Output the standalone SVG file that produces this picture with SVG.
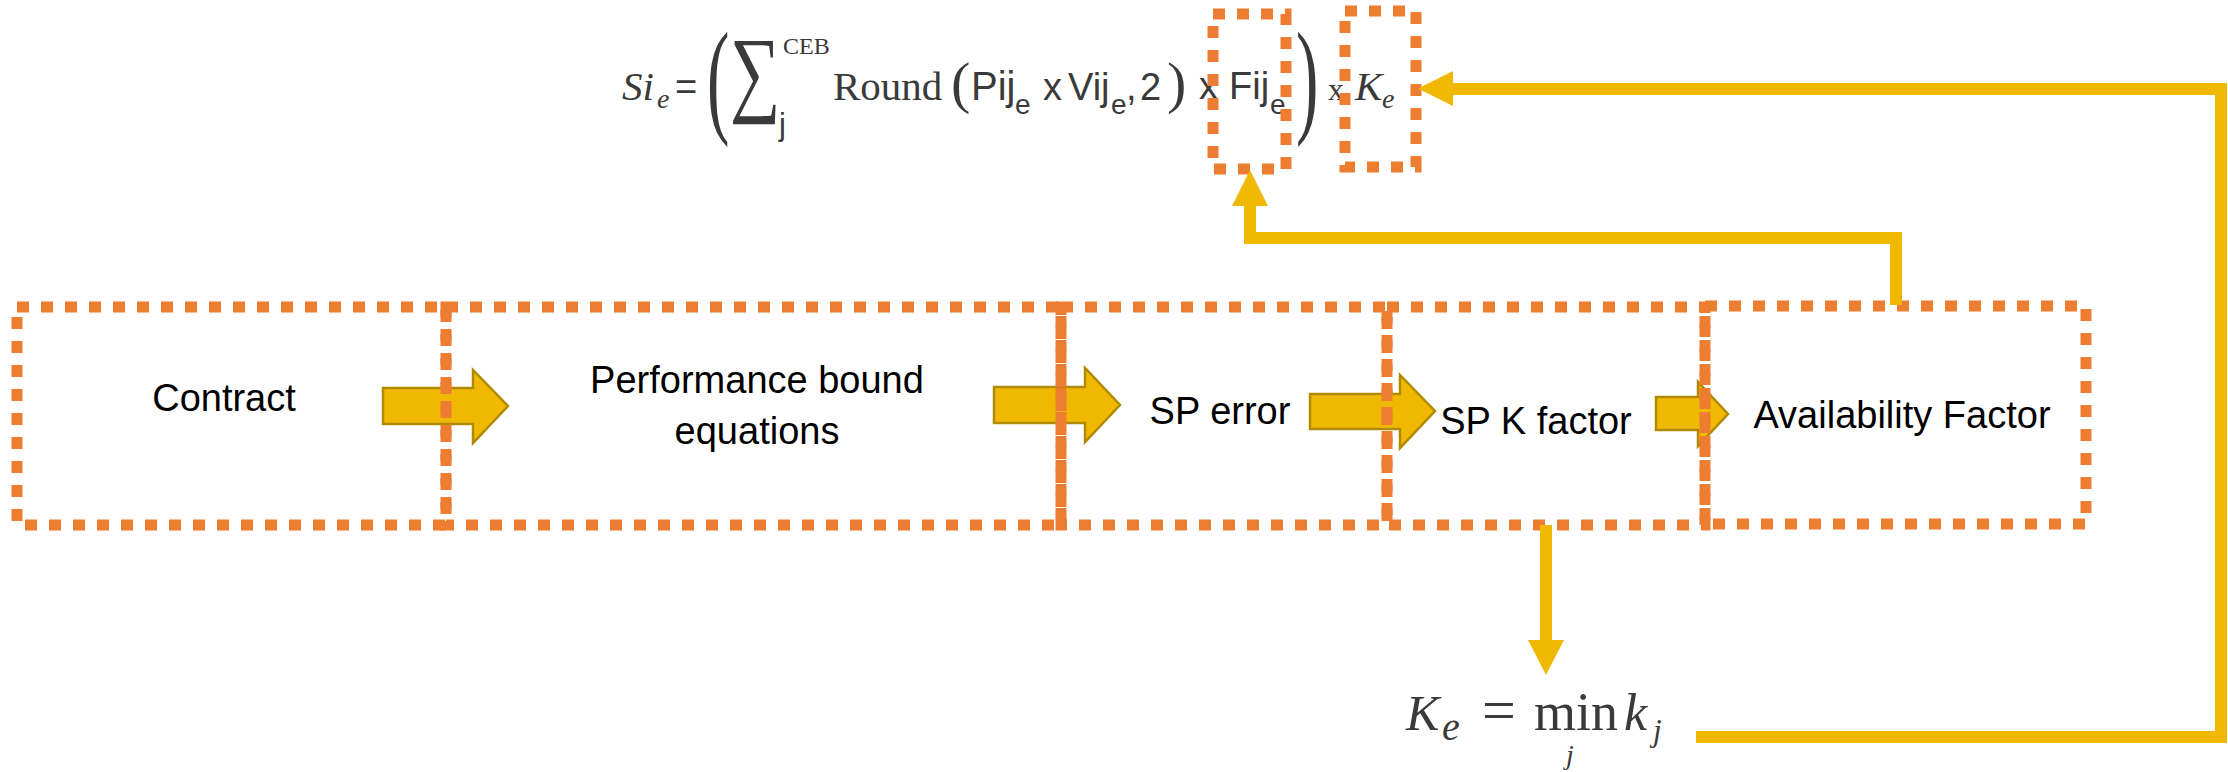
<svg xmlns="http://www.w3.org/2000/svg" width="2228" height="772" viewBox="0 0 2228 772">
<style>
.dot{fill:none;stroke:#ED7D31;stroke-width:11;stroke-dasharray:12 12}
.lbl{font-family:"Liberation Sans",Arial,sans-serif;font-size:38px;fill:#000}
.blk{fill:#F0B800;stroke:#B08A00;stroke-width:2.5}
.con{fill:none;stroke:#F0B800;stroke-width:12}
.head{fill:#F0B800}
.ser{font-family:"Liberation Serif","Times New Roman",serif;fill:#3a3a3a}
.it{font-style:italic}
.san{font-family:"Liberation Sans",Arial,sans-serif;fill:#3a3a3a}
</style>
<rect width="2228" height="772" fill="#fff"/>

<g id="block-arrows">
<polygon class="blk" points="383,388 473,388 473,370 508,406 473,443 473,424 383,424"/>
<polygon class="blk" points="994,387 1085,387 1085,368 1120,405 1085,442 1085,423 994,423"/>
<polygon class="blk" points="1310,394 1400,394 1400,375 1435,411 1400,448 1400,429 1310,429"/>
<polygon class="blk" points="1656,397 1698,397 1698,382 1728,414 1698,446 1698,430 1656,430"/>
</g>

<g id="box-contract">
<rect class="dot" x="17" y="307" width="429" height="218"/>
<text class="lbl" x="224" y="411" text-anchor="middle">Contract</text>
</g>
<g id="box-performance">
<rect class="dot" x="446" y="307" width="615" height="218"/>
<text class="lbl" x="757" y="393" text-anchor="middle">Performance bound</text>
<text class="lbl" x="757" y="444" text-anchor="middle">equations</text>
</g>
<g id="box-sp-error">
<rect class="dot" x="1061" y="307" width="326" height="218"/>
<text class="lbl" x="1220" y="424" text-anchor="middle">SP error</text>
</g>
<g id="box-sp-k">
<rect class="dot" x="1387" y="307" width="318" height="218"/>
<text class="lbl" x="1536" y="434" text-anchor="middle">SP K factor</text>
</g>
<g id="box-availability">
<rect class="dot" x="1705" y="306" width="381" height="218"/>
<text class="lbl" x="1902" y="428" text-anchor="middle">Availability Factor</text>
</g>

<g id="formula-si">
<text class="ser it" x="622" y="100" font-size="41">Si</text>
<text class="ser it" x="657" y="108" font-size="28">e</text>
<text class="san" x="675" y="100" font-size="38">=</text>
<text class="ser" transform="translate(707,120) scale(0.53,1)" font-size="127">(</text>
<text class="ser" transform="translate(730,104) scale(0.74,1)" font-size="96">∑</text>
<text class="ser" x="783" y="54" font-size="24">CEB</text>
<text class="san" x="779" y="135" font-size="31">j</text>
<text class="ser" x="833" y="100" font-size="41">Round</text>
<text class="ser" x="951" y="102" font-size="58">(</text>
<text class="san" x="971" y="100" font-size="40">Pij</text>
<text class="san" x="1015" y="114" font-size="28">e</text>
<text class="san" x="1043" y="100" font-size="38">x</text>
<text class="san" x="1068" y="100" font-size="38">Vij</text>
<text class="san" x="1111" y="114" font-size="28">e</text>
<text class="san" x="1126" y="100" font-size="38">,<tspan x="1140">2</tspan></text>
<text class="ser" x="1167" y="102" font-size="58">)</text>
<text class="san" x="1199" y="99" font-size="38">x</text>
<text class="san" x="1229" y="99" font-size="38">Fij</text>
<text class="san" x="1270" y="114" font-size="28">e</text>
<text class="ser" transform="translate(1296,120) scale(0.53,1)" font-size="127">)</text>
<text class="ser" x="1328" y="100" font-size="32">x</text>
<text class="ser it" x="1355" y="100" font-size="41">K</text>
<text class="ser it" x="1382" y="108" font-size="28">e</text>
</g>

<g id="fij-box">
<rect class="dot" x="1213" y="14" width="73" height="155"/>
</g>
<g id="ke-box">
<rect class="dot" x="1345" y="11" width="71" height="156"/>
</g>

<g id="formula-ke">
<text class="ser it" x="1406" y="730" font-size="50">K</text>
<text class="ser it" x="1442" y="740" font-size="40">e</text>
<text class="ser" x="1482" y="730" font-size="60">=</text>
<text class="ser" x="1534" y="730" font-size="54">min</text>
<text class="ser it" x="1566" y="764" font-size="28">j</text>
<text class="ser it" x="1624" y="730" font-size="52">k</text>
<text class="ser it" x="1653" y="741" font-size="31">j</text>
</g>

<g id="connectors">
<path class="con" d="M1546 525 V642"/>
<polygon class="head" points="1528,640 1564,640 1546,675"/>
<path class="con" d="M1896 305 V238 H1250 V204"/>
<polygon class="head" points="1232,206 1268,206 1250,170"/>
<path class="con" d="M1696 737 H2221 V89 H1451"/>
<polygon class="head" points="1453,71 1453,106 1418,88.5"/>
</g>
</svg>
